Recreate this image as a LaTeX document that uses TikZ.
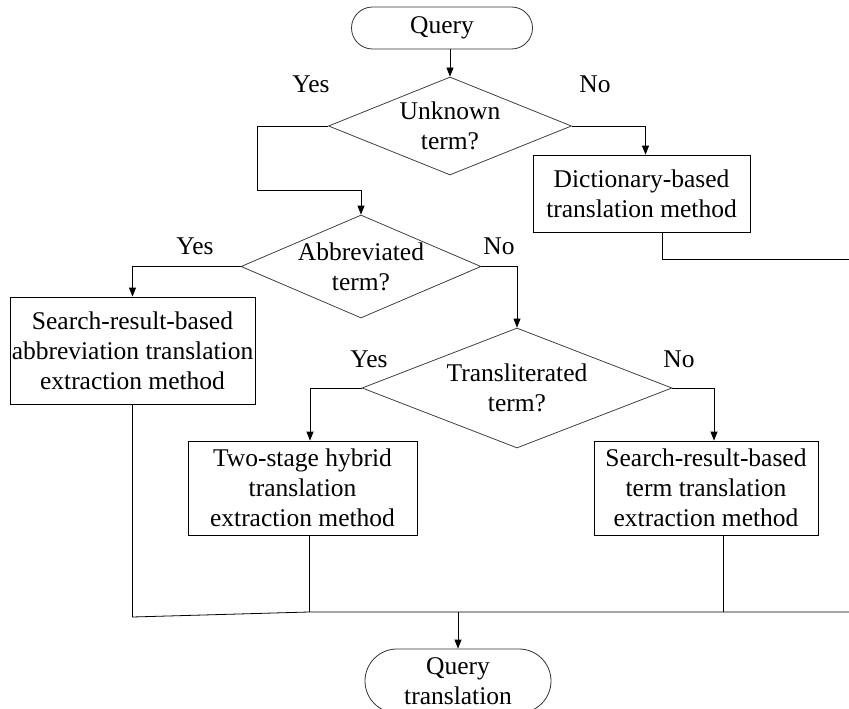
\documentclass[tikz,border=0pt]{standalone}
\usepackage{fontspec}
\setmainfont{Liberation Serif}
\usetikzlibrary{shapes.geometric,shapes.misc,arrows.meta}
\begin{document}
\begin{tikzpicture}[x=1pt,y=-1pt,
  txt/.style={font=\fontsize{25.5}{30}\selectfont, align=center},
  term/.style={txt, draw=black!80, rounded rectangle, inner sep=0pt, line width=0.8pt},
  dia/.style={draw=black!75, diamond, inner sep=0pt, line width=0.8pt},
  box/.style={txt, draw, rectangle, inner sep=0pt, line width=0.8pt},
  lbl/.style={txt, inner sep=0pt},
  ln/.style={line width=0.8pt},
  arr/.style={ln, -{Triangle[length=9pt,width=7pt]}}
]
\useasboundingbox (0,0) rectangle (849,709);

% nodes
\node[term, minimum width=181pt, minimum height=42pt] (q) at (442,28) {Query};
\node[dia, minimum width=243pt, minimum height=98pt, label={[lbl]center:Unknown\\term?}] (d1) at (450,126) {};
\node[box, minimum width=217pt, minimum height=77pt] (dict) at (641.5,193.5) {Dictionary-based\\translation method};
\node[dia, minimum width=240pt, minimum height=103pt, label={[lbl]center:Abbreviated\\term?}] (d2) at (361,266.5) {};
\node[box, minimum width=245pt, minimum height=107pt] (b3) at (132.5,350.5) {Search-result-based\\abbreviation translation\\extraction method};
\node[dia, minimum width=310pt, minimum height=120pt, label={[lbl]center:Transliterated\\term?}] (d3) at (517,388) {};
\node[box, minimum width=229pt, minimum height=94pt] (b4) at (302.5,488) {Two-stage hybrid\\translation\\extraction method};
\node[box, minimum width=224pt, minimum height=94pt] (b5) at (706,488) {Search-result-based\\term translation\\extraction method};
\node[term, minimum width=186pt, minimum height=64pt] (qt) at (458,681) {Query\\translation};

% labels
\node[lbl] (y1) at (311,84) {Yes};
\node[lbl] (n1) at (595,84) {No};
\node[lbl] (y2) at (195,246) {Yes};
\node[lbl] (n2) at (499,246) {No};
\node[lbl] (y3) at (369,359) {Yes};
\node[lbl] (n3) at (679,359) {No};

% helper coordinates
\coordinate (c1) at (257,190);
\coordinate (r1) at (849,259);
\coordinate (jl) at (132.5,617);
\coordinate (jm) at (309,612);
\coordinate (jr) at (849,612);
\coordinate (j5) at (723,612);
\coordinate (ja) at (458,612);

% connectors
\draw[arr] (q.south -| d1.north) -- (d1.north);
\draw[arr] (d1.west) -| (c1) -| (d2.north);
\draw[arr] (d1.east) -| ([xshift=4pt]dict.north);
\draw[arr] (d2.west) -| (b3.north);
\draw[arr] (d2.east) -| (d3.north);
\draw[arr] (d3.west) -| ([xshift=7.5pt]b4.north);
\draw[arr] (d3.east) -| ([xshift=8pt]b5.north);
\draw[ln] ([xshift=20.5pt]dict.south) |- (r1);
\draw[ln] (b3.south) -- (jl) -- (jm) -- (jr);
\draw[ln] ([xshift=6.5pt]b4.south) -- (jm);
\draw[ln] ([xshift=17pt]b5.south) -- (j5);
\draw[arr] (ja) -- (qt.north);
\end{tikzpicture}
\end{document}
